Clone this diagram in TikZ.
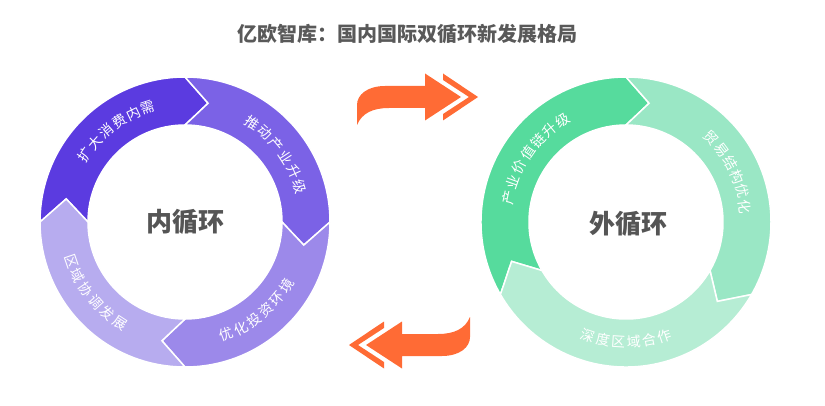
\documentclass[tikz,border=0pt]{standalone}
\usepackage{fontspec}
\newfontfamily\cjk{Noto Sans CJK SC}
\definecolor{lpA}{HTML}{5B3BE0}
\definecolor{lpB}{HTML}{7B62E6}
\definecolor{lpC}{HTML}{9C89EA}
\definecolor{lpD}{HTML}{B7ACEF}
\definecolor{grA}{HTML}{56DB9D}
\definecolor{grB}{HTML}{9AE7C5}
\definecolor{grC}{HTML}{B6EDD4}
\definecolor{arrowor}{HTML}{FF6B35}
\definecolor{titlegray}{HTML}{595959}
\definecolor{centergray}{HTML}{555555}
% clockwise ring segment: start angle, end angle, colour
\newcommand\ringseg[3]{%
  \path[fill=#3, draw=white, line width=1.5pt]
    (#1:145) arc[start angle=#1, end angle=#2, radius=145]
    -- ({#2-11}:121) -- (#2:97)
    arc[start angle=#2, end angle=#1, radius=97]
    -- ({#1-11}:121) -- cycle;}
% text along arc, read clockwise: centre angle, step, count, list, prefix
\newcommand\cwtext[5]{%
  \foreach \ch [count=\k from 0] in {#4}{%
    \pgfmathsetmacro\ang{#1+(#3-1)/2*#2-\k*#2}%
    \node[segtxt, rotate=\ang-90] (#5\k) at (\ang:120) {\ch};}}
% text along arc, read counter-clockwise
\newcommand\ccwtext[5]{%
  \foreach \ch [count=\k from 0] in {#4}{%
    \pgfmathsetmacro\ang{#1-(#3-1)/2*#2+\k*#2}%
    \node[segtxt, rotate=\ang+90] (#5\k) at (\ang:120) {\ch};}}
\newcommand\orarrow{%
  \fill[arrowor] (-68,-28) .. controls (-63,-16) and (-52,-11) .. (-36,-11)
    -- (0,-11) -- (0,-23.5) -- (36,0) -- (0,23.5) -- (0,11) -- (-40,11)
    .. controls (-58,11) and (-68,2) .. (-68,-8) -- cycle;
  \fill[arrowor] (18,23.5) -- (53,0) -- (18,-23.5) -- (18,-17) -- (44,0) -- (18,17) -- cycle;}
\tikzset{
  segtxt/.style={text=white, font=\cjk\fontsize{14}{14}\selectfont, inner sep=0pt},
  centerlbl/.style={text=centergray, font=\cjk\bfseries\fontsize{26}{26}\selectfont, inner sep=0pt},
  titlelbl/.style={text=titlegray, font=\cjk\bfseries\fontsize{20}{20}\selectfont, inner sep=0pt}
}
\begin{document}
\begin{tikzpicture}[x=1pt,y=1pt]
\useasboundingbox (0,0) rectangle (825,405);
\node[titlelbl] (title) at (407,371) {亿欧智库：国内国际双循环新发展格局};
% left ring
\begin{scope}[shift={(185,183)}]
  \ringseg{180}{90}{lpA}
  \ringseg{90}{0}{lpB}
  \ringseg{0}{-90}{lpC}
  \ringseg{-90}{-180}{lpD}
  \cwtext{127}{7.6}{6}{扩,大,消,费,内,需}{la}
  \cwtext{36.5}{7.8}{6}{推,动,产,业,升,级}{lb}
  \ccwtext{-51}{7.5}{6}{优,化,投,资,环,境}{lc}
  \ccwtext{-142}{7.6}{6}{区,域,协,调,发,展}{ld}
  \node[centerlbl] (inner) at (0,0) {内循环};
\end{scope}
% right ring
\begin{scope}[shift={(626,183)}]
  \ringseg{210}{90}{grA}
  \ringseg{90}{-30}{grB}
  \ringseg{-30}{-150}{grC}
  \cwtext{145}{7.7}{7}{产,业,价,值,链,升,级}{ra}
  \cwtext{26}{7.4}{6}{贸,易,结,构,优,化}{rb}
  \ccwtext{-90}{7.4}{6}{深,度,区,域,合,作}{rc}
  \node[centerlbl] (outer) at (2,-2) {外循环};
\end{scope}
% arrows
\begin{scope}[shift={(425,308)}]
  \orarrow
\end{scope}
\begin{scope}[shift={(402,60)}, rotate=180]
  \orarrow
\end{scope}
\end{tikzpicture}
\end{document}
